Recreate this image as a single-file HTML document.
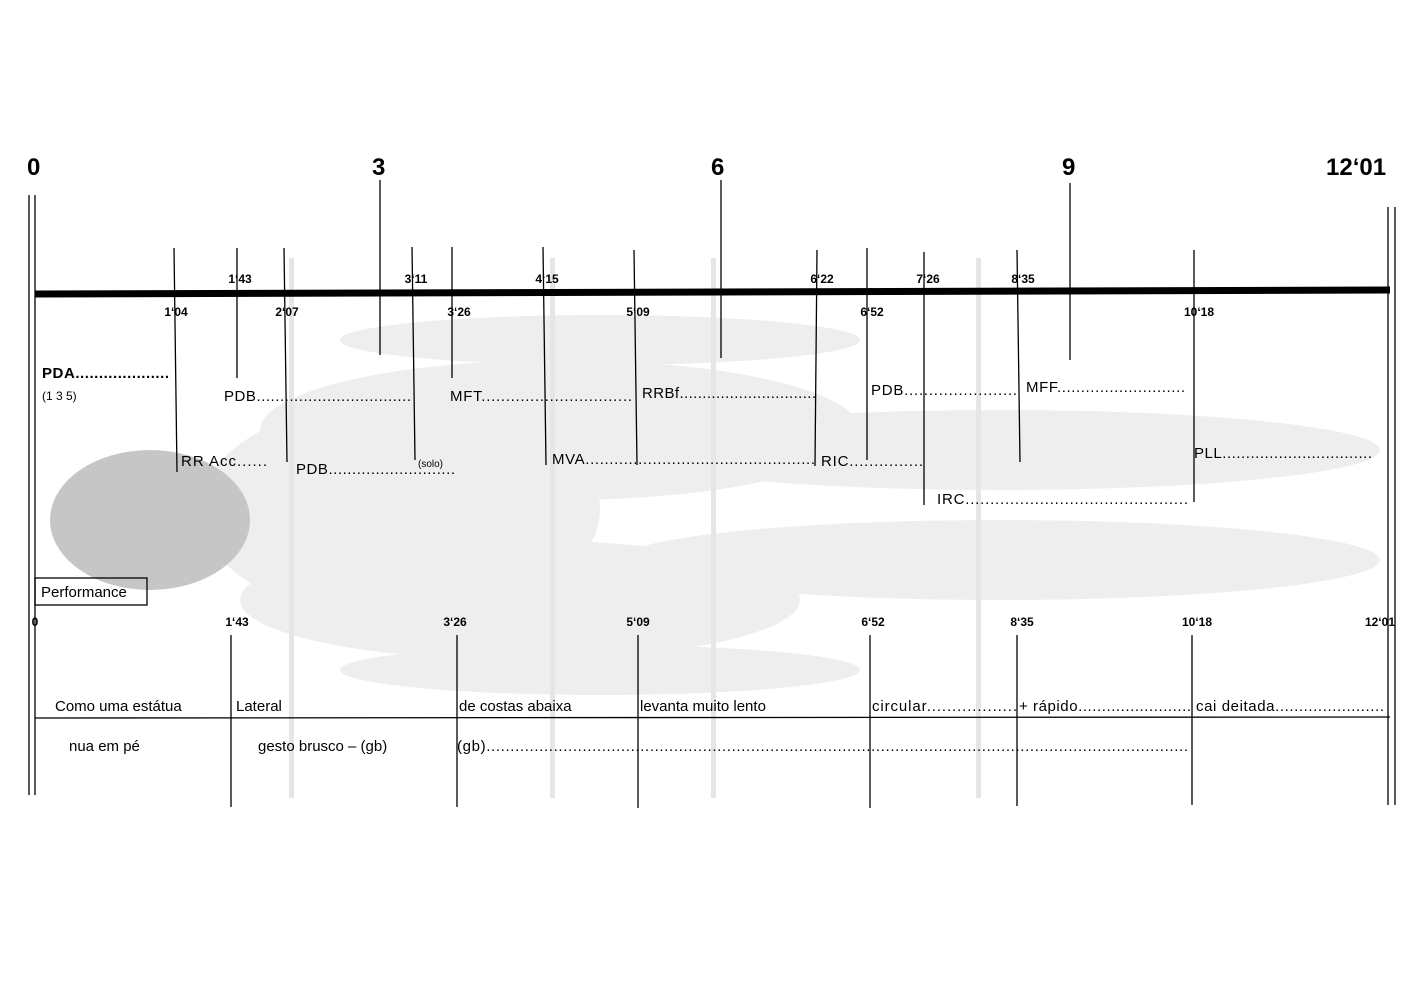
<!DOCTYPE html>
<html><head><meta charset="utf-8"><style>html,body{margin:0;padding:0;background:#fff}svg{display:block}</style></head>
<body>
<svg width="1423" height="1005" viewBox="0 0 1423 1005" xmlns="http://www.w3.org/2000/svg" font-family="Liberation Sans, Arial, sans-serif">
<g fill="#eeeeee">
<ellipse cx="560" cy="430" rx="300" ry="70"/>
<ellipse cx="520" cy="600" rx="280" ry="60"/>
<ellipse cx="1000" cy="450" rx="380" ry="40"/>
<ellipse cx="1000" cy="560" rx="380" ry="40"/>
<ellipse cx="600" cy="340" rx="260" ry="25"/>
<ellipse cx="600" cy="670" rx="260" ry="25"/>
<ellipse cx="400" cy="510" rx="200" ry="110"/>
</g>
<g fill="#c6c6c6"><ellipse cx="150" cy="520" rx="100" ry="70"/></g>
<g fill="#e6e6e6"><rect x="289" y="258" width="5" height="540"/><rect x="550" y="258" width="5" height="540"/><rect x="711" y="258" width="5" height="540"/><rect x="976" y="258" width="5" height="540"/></g>

<g stroke="#000" stroke-width="1.3" fill="none">
<line x1="29" y1="195" x2="29" y2="795"/><line x1="35" y1="195" x2="35" y2="795"/>
<line x1="1388" y1="207" x2="1388" y2="805"/><line x1="1395" y1="207" x2="1395" y2="805"/>
<line x1="380" y1="180" x2="380" y2="355"/>
<line x1="721" y1="180" x2="721" y2="358"/>
<line x1="1070" y1="183" x2="1070" y2="360"/>
<line x1="174" y1="248" x2="177" y2="472"/>
<line x1="237" y1="248" x2="237" y2="378"/>
<line x1="284" y1="248" x2="287" y2="462"/>
<line x1="412" y1="247" x2="415" y2="460"/>
<line x1="452" y1="247" x2="452" y2="378"/>
<line x1="543" y1="247" x2="546" y2="465"/>
<line x1="634" y1="250" x2="637" y2="465"/>
<line x1="817" y1="250" x2="815" y2="466"/>
<line x1="867" y1="248" x2="867" y2="460"/>
<line x1="924" y1="252" x2="924" y2="505"/>
<line x1="1017" y1="250" x2="1020" y2="462"/>
<line x1="1194" y1="250" x2="1194" y2="502"/>
<line x1="231" y1="635" x2="231" y2="807"/>
<line x1="457" y1="635" x2="457" y2="807"/>
<line x1="638" y1="635" x2="638" y2="808"/>
<line x1="870" y1="635" x2="870" y2="808"/>
<line x1="1017" y1="635" x2="1017" y2="806"/>
<line x1="1192" y1="635" x2="1192" y2="805"/>
<line x1="35" y1="718" x2="1390" y2="717"/>
<rect x="35" y="578" width="112" height="27"/>
</g>
<line x1="35" y1="294" x2="1390" y2="290" stroke="#000" stroke-width="7"/>

<g font-weight="bold" font-size="24">
<text x="27" y="175">0</text><text x="372" y="175">3</text><text x="711" y="175">6</text><text x="1062" y="175">9</text><text x="1326" y="175">12‘01</text>
</g>
<g font-weight="bold" font-size="12" text-anchor="middle">
<text x="240" y="283">1‘43</text><text x="416" y="283">3‘11</text><text x="547" y="283">4‘15</text><text x="822" y="283">6‘22</text><text x="928" y="283">7‘26</text><text x="1023" y="283">8‘35</text>
<text x="176" y="316">1‘04</text><text x="287" y="316">2‘07</text><text x="459" y="316">3‘26</text><text x="638" y="316">5‘09</text><text x="872" y="316">6‘52</text><text x="1199" y="316">10‘18</text>
<text x="35" y="626">0</text><text x="237" y="626">1‘43</text><text x="455" y="626">3‘26</text><text x="638" y="626">5‘09</text><text x="873" y="626">6‘52</text><text x="1022" y="626">8‘35</text><text x="1197" y="626">10‘18</text><text x="1380" y="626">12‘01</text>
</g>
<g font-size="15">
<text x="42" y="378" font-weight="bold" textLength="127" lengthAdjust="spacing">PDA....................</text>
<text x="42" y="400" font-size="12">(1 3 5)</text>
<text x="224" y="401" textLength="187" lengthAdjust="spacing">PDB.................................</text>
<text x="450" y="401" textLength="182" lengthAdjust="spacing">MFT...............................</text>
<text x="642" y="398" textLength="174" lengthAdjust="spacing">RRBf..............................</text>
<text x="871" y="395" textLength="146" lengthAdjust="spacing">PDB.......................</text>
<text x="1026" y="392" textLength="159" lengthAdjust="spacing">MFF...........................</text>
<text x="181" y="466" textLength="86" lengthAdjust="spacing">RR Acc......</text>
<text x="296" y="474" textLength="159" lengthAdjust="spacing">PDB...........................</text>
<text x="418" y="467" font-size="10">(solo)</text>
<text x="552" y="464" textLength="263" lengthAdjust="spacing">MVA................................................</text>
<text x="821" y="466" textLength="102" lengthAdjust="spacing">RIC...............</text>
<text x="1194" y="458" textLength="178" lengthAdjust="spacing">PLL................................</text>
<text x="937" y="504" textLength="251" lengthAdjust="spacing">IRC.............................................</text>
<text x="41" y="597">Performance</text>
<text x="55" y="711">Como uma estátua</text>
<text x="236" y="711">Lateral</text>
<text x="459" y="711">de costas abaixa</text>
<text x="640" y="711">levanta muito lento</text>
<text x="872" y="711" textLength="145" lengthAdjust="spacing">circular..................</text>
<text x="1019" y="711" textLength="172" lengthAdjust="spacing">+ rápido........................</text>
<text x="1196" y="711" textLength="188" lengthAdjust="spacing">cai deitada.......................</text>
<text x="69" y="751">nua em pé</text>
<text x="258" y="751">gesto brusco – (gb)</text>
<text x="457" y="751" textLength="731" lengthAdjust="spacing">(gb)..................................................................................................................................................</text>
</g>
</svg>
</body></html>
